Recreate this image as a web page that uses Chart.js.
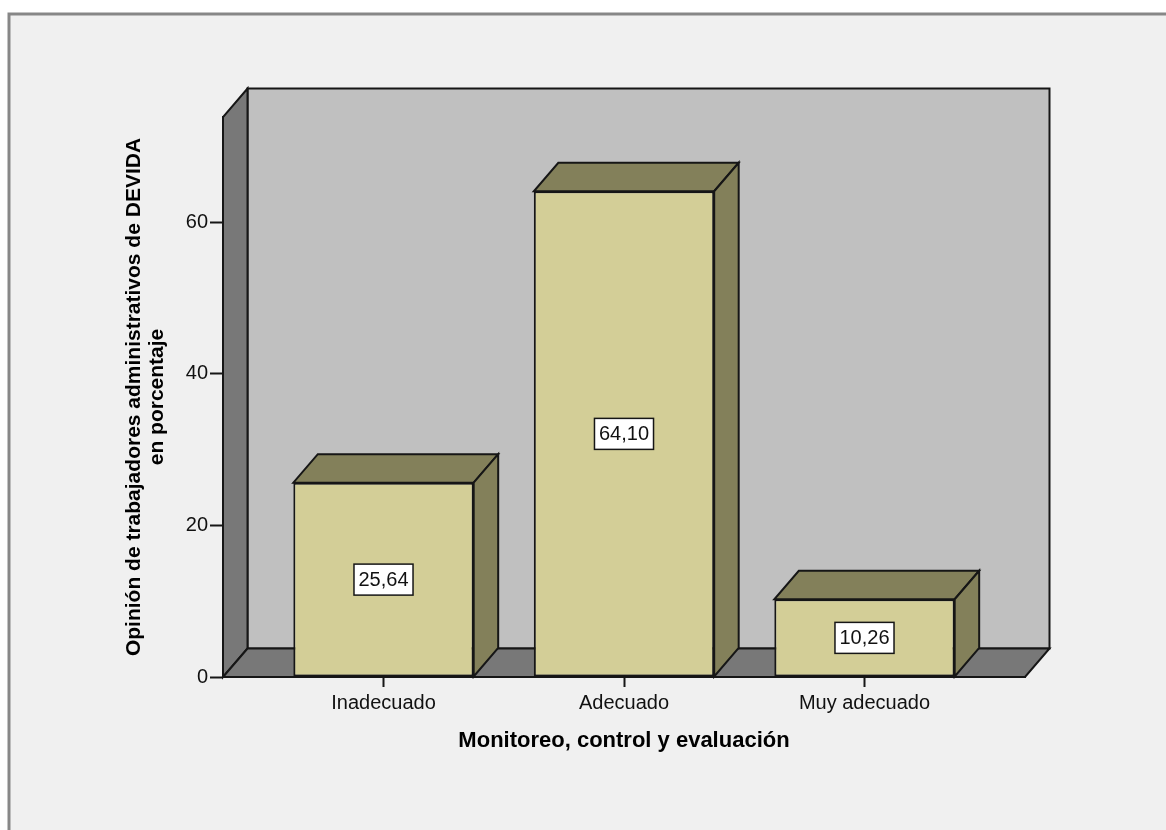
<!DOCTYPE html>
<html>
<head>
<meta charset="utf-8">
<script src="https://cdn.jsdelivr.net/npm/chart.js@4/dist/chart.umd.min.js"></script>
<style>
  html, body { margin: 0; padding: 0; background: #ffffff; }
  canvas { display: block; }
</style>
</head>
<body>
<canvas id="chart" width="1166" height="830"></canvas>
<script>
// Data
const categories = ['Inadecuado', 'Adecuado', 'Muy adecuado'];
const percentages = [25.64, 64.10, 10.26];
const yTickValues = [0, 20, 40, 60];
const yAxisTitle = ['Opinión de trabajadores administrativos de DEVIDA', 'en porcentaje'];
const xAxisTitle = 'Monitoreo, control y evaluación';

// Look
const FONT = "'Liberation Sans', Arial, sans-serif";
const DEPTH_X = 24.5;     // 3D depth offset of walls and bars
const DEPTH_Y = -28.5;
const EDGE = '#161616';
const WALL_BACK = '#c0c0c0';
const WALL_SIDE = '#787878';
const BAR_FRONT = '#d3ce97';
const BAR_SHADE = '#83805a';

function polygon(ctx, pts, fill) {
  ctx.beginPath();
  ctx.moveTo(pts[0][0], pts[0][1]);
  for (let i = 1; i < pts.length; i++) ctx.lineTo(pts[i][0], pts[i][1]);
  ctx.closePath();
  ctx.fillStyle = fill;
  ctx.fill();
  ctx.lineWidth = 2;
  ctx.lineJoin = 'miter';
  ctx.strokeStyle = EDGE;
  ctx.stroke();
}

function formatValue(v) {
  return v.toFixed(2).replace('.', ',');
}

// Panel background, back wall, left wall and floor of the 3D box
const boxPlugin = {
  id: 'box3d',
  beforeDraw(chart) {
    const { ctx, chartArea: a, width, height } = chart;
    const y0 = chart.scales.y.getPixelForValue(0);
    ctx.save();
    ctx.fillStyle = '#ffffff';
    ctx.fillRect(0, 0, width, height);
    ctx.fillStyle = '#f0f0f0';
    ctx.fillRect(9, 14, width, height);
    ctx.strokeStyle = '#878787';
    ctx.lineWidth = 3;
    ctx.beginPath();
    ctx.moveTo(9, height + 5);
    ctx.lineTo(9, 14);
    ctx.lineTo(width + 5, 14);
    ctx.stroke();

    polygon(ctx, [
      [a.left + DEPTH_X, a.top + DEPTH_Y],
      [a.right + DEPTH_X, a.top + DEPTH_Y],
      [a.right + DEPTH_X, y0 + DEPTH_Y],
      [a.left + DEPTH_X, y0 + DEPTH_Y]
    ], WALL_BACK);
    polygon(ctx, [
      [a.left, y0],
      [a.left, a.top],
      [a.left + DEPTH_X, a.top + DEPTH_Y],
      [a.left + DEPTH_X, y0 + DEPTH_Y]
    ], WALL_SIDE);
    polygon(ctx, [
      [a.left, y0],
      [a.right, y0],
      [a.right + DEPTH_X, y0 + DEPTH_Y],
      [a.left + DEPTH_X, y0 + DEPTH_Y]
    ], WALL_SIDE);
    ctx.restore();
  },
  // Top and side faces of each bar, plus the boxed value label
  afterDatasetsDraw(chart) {
    const { ctx } = chart;
    const meta = chart.getDatasetMeta(0);
    ctx.save();
    meta.data.forEach((bar, i) => {
      const { x, y, base, width } = bar.getProps(['x', 'y', 'base', 'width'], true);
      const l = x - width / 2;
      const r = x + width / 2;
      polygon(ctx, [
        [l, y], [r, y], [r + DEPTH_X, y + DEPTH_Y], [l + DEPTH_X, y + DEPTH_Y]
      ], BAR_SHADE);
      polygon(ctx, [
        [r, y], [r + DEPTH_X, y + DEPTH_Y], [r + DEPTH_X, base + DEPTH_Y], [r, base]
      ], BAR_SHADE);

      const text = formatValue(percentages[i]);
      ctx.font = '20px ' + FONT;
      const tw = ctx.measureText(text).width;
      const bw = tw + 9;
      const bh = 31;
      const cy = (y + base) / 2;
      ctx.fillStyle = '#ffffff';
      ctx.fillRect(x - bw / 2, cy - bh / 2, bw, bh);
      ctx.lineWidth = 1.5;
      ctx.strokeStyle = EDGE;
      ctx.strokeRect(x - bw / 2, cy - bh / 2, bw, bh);
      ctx.fillStyle = '#111111';
      ctx.textAlign = 'center';
      ctx.textBaseline = 'middle';
      ctx.fillText(text, x, cy + 1);
    });
    ctx.restore();
  }
};

new Chart(document.getElementById('chart'), {
  type: 'bar',
  data: {
    datasets: [{
      data: percentages.map((v, i) => ({ x: i, y: v })),
      backgroundColor: BAR_FRONT,
      borderColor: EDGE,
      borderWidth: 2,
      borderSkipped: false,
      barPercentage: 0.75,
      categoryPercentage: 1.0
    }]
  },
  options: {
    responsive: false,
    animation: false,
    events: [],
    layout: { padding: { top: 117, right: 141, left: 0, bottom: 0 } },
    plugins: {
      legend: { display: false },
      tooltip: { enabled: false }
    },
    scales: {
      x: {
        type: 'linear',
        min: -0.6674,
        max: 2.6674,
        offset: false,
        afterFit: (s) => { s.height = 153; },
        afterBuildTicks: (s) => { s.ticks = categories.map((_, i) => ({ value: i })); },
        grid: {
          display: true, offset: false, drawOnChartArea: false, drawTicks: true,
          tickLength: 10, tickColor: EDGE, tickWidth: 2
        },
        border: { display: true, color: EDGE, width: 2 },
        ticks: {
          autoSkip: false, maxRotation: 0, padding: 4,
          color: '#111111',
          font: { family: FONT, size: 20 },
          callback: (v) => categories[v] ?? ''
        },
        title: {
          display: true,
          text: xAxisTitle,
          color: '#000000',
          font: { family: FONT, size: 22, weight: 'bold', lineHeight: 1.1 },
          padding: { top: 0, bottom: 77 }
        }
      },
      y: {
        type: 'linear',
        min: 0,
        max: 73.9,
        afterFit: (s) => { s.width = 223; },
        afterBuildTicks: (s) => { s.ticks = yTickValues.map(v => ({ value: v })); },
        grid: {
          display: true, drawOnChartArea: false, drawTicks: true,
          tickLength: 13, tickColor: EDGE, tickWidth: 2
        },
        border: { display: true, color: EDGE, width: 2 },
        ticks: {
          padding: 2,
          color: '#111111',
          font: { family: FONT, size: 20 }
        },
        title: {
          display: true,
          text: yAxisTitle,
          color: '#000000',
          font: { family: FONT, size: 21, weight: 'bold', lineHeight: 1.1 },
          padding: { top: 122.5, bottom: 0 }
        }
      }
    }
  },
  plugins: [boxPlugin]
});
</script>
</body>
</html>
